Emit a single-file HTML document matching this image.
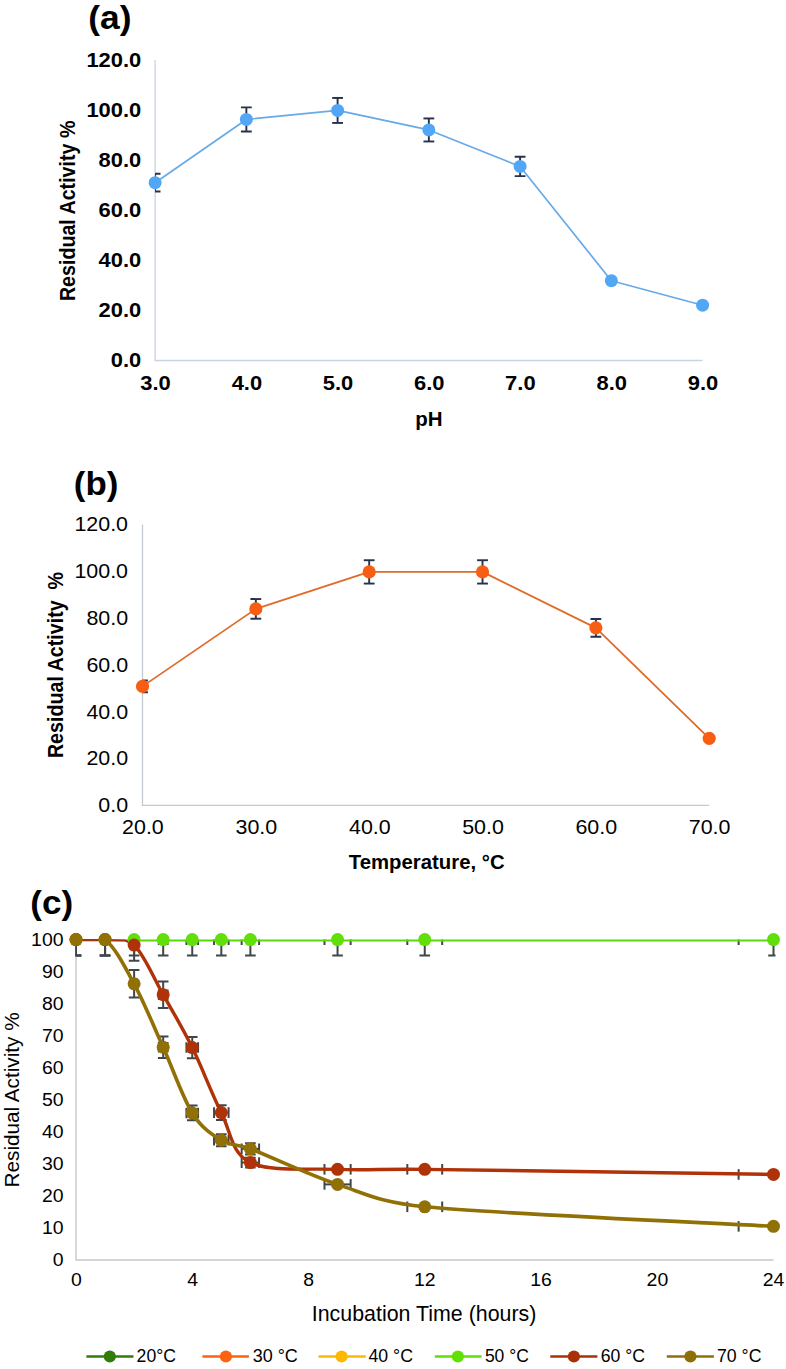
<!DOCTYPE html>
<html><head><meta charset="utf-8"><title>Figure</title>
<style>html,body{margin:0;padding:0;background:#fff;}svg{display:block;font-family:"Liberation Sans", sans-serif;}</style>
</head><body>
<svg width="786" height="1369" viewBox="0 0 786 1369">
<rect width="786" height="1369" fill="#fff"/>
<polyline points="155.1,60 155.1,360.5 702.60,360.5" fill="none" stroke="#cad2e8" stroke-width="1.3"/>
<clipPath id="ca"><rect x="155.1" y="0" width="553.5" height="360.2"/></clipPath>
<g clip-path="url(#ca)">
<line x1="155.10" y1="173.82" x2="155.10" y2="191.57" stroke="#27324a" stroke-width="1.9"/>
<line x1="149.70" y1="173.82" x2="160.50" y2="173.82" stroke="#27324a" stroke-width="1.9"/>
<line x1="149.70" y1="191.57" x2="160.50" y2="191.57" stroke="#27324a" stroke-width="1.9"/>
<line x1="246.35" y1="107.41" x2="246.35" y2="131.49" stroke="#27324a" stroke-width="1.9"/>
<line x1="240.95" y1="107.41" x2="251.75" y2="107.41" stroke="#27324a" stroke-width="1.9"/>
<line x1="240.95" y1="131.49" x2="251.75" y2="131.49" stroke="#27324a" stroke-width="1.9"/>
<line x1="337.60" y1="97.96" x2="337.60" y2="122.94" stroke="#27324a" stroke-width="1.9"/>
<line x1="332.20" y1="97.96" x2="343.00" y2="97.96" stroke="#27324a" stroke-width="1.9"/>
<line x1="332.20" y1="122.94" x2="343.00" y2="122.94" stroke="#27324a" stroke-width="1.9"/>
<line x1="428.85" y1="118.44" x2="428.85" y2="141.46" stroke="#27324a" stroke-width="1.9"/>
<line x1="423.45" y1="118.44" x2="434.25" y2="118.44" stroke="#27324a" stroke-width="1.9"/>
<line x1="423.45" y1="141.46" x2="434.25" y2="141.46" stroke="#27324a" stroke-width="1.9"/>
<line x1="520.10" y1="156.76" x2="520.10" y2="176.14" stroke="#27324a" stroke-width="1.9"/>
<line x1="514.70" y1="156.76" x2="525.50" y2="156.76" stroke="#27324a" stroke-width="1.9"/>
<line x1="514.70" y1="176.14" x2="525.50" y2="176.14" stroke="#27324a" stroke-width="1.9"/>
</g>
<polyline points="155.10,182.70 246.35,119.45 337.60,110.45 428.85,129.95 520.10,166.45 611.35,280.70 702.60,305.20" fill="none" stroke="#66aae6" stroke-width="1.7" stroke-linejoin="round"/>
<circle cx="155.10" cy="182.70" r="6.5" fill="#52a6f6"/>
<circle cx="246.35" cy="119.45" r="6.5" fill="#52a6f6"/>
<circle cx="337.60" cy="110.45" r="6.5" fill="#52a6f6"/>
<circle cx="428.85" cy="129.95" r="6.5" fill="#52a6f6"/>
<circle cx="520.10" cy="166.45" r="6.5" fill="#52a6f6"/>
<circle cx="611.35" cy="280.70" r="6.5" fill="#52a6f6"/>
<circle cx="702.60" cy="305.20" r="6.5" fill="#52a6f6"/>
<polyline points="142.5,524.4 142.5,805.3 709.20,805.3" fill="none" stroke="#c2c9d2" stroke-width="1.3"/>
<clipPath id="cb"><rect x="142.5" y="450" width="572.7" height="355.3"/></clipPath>
<g clip-path="url(#cb)">
<line x1="142.50" y1="680.43" x2="142.50" y2="692.32" stroke="#27324a" stroke-width="1.9"/>
<line x1="137.10" y1="680.43" x2="147.90" y2="680.43" stroke="#27324a" stroke-width="1.9"/>
<line x1="137.10" y1="692.32" x2="147.90" y2="692.32" stroke="#27324a" stroke-width="1.9"/>
<line x1="255.84" y1="599.07" x2="255.84" y2="618.71" stroke="#27324a" stroke-width="1.9"/>
<line x1="250.44" y1="599.07" x2="261.24" y2="599.07" stroke="#27324a" stroke-width="1.9"/>
<line x1="250.44" y1="618.71" x2="261.24" y2="618.71" stroke="#27324a" stroke-width="1.9"/>
<line x1="369.18" y1="560.23" x2="369.18" y2="583.57" stroke="#27324a" stroke-width="1.9"/>
<line x1="363.78" y1="560.23" x2="374.58" y2="560.23" stroke="#27324a" stroke-width="1.9"/>
<line x1="363.78" y1="583.57" x2="374.58" y2="583.57" stroke="#27324a" stroke-width="1.9"/>
<line x1="482.52" y1="560.23" x2="482.52" y2="583.57" stroke="#27324a" stroke-width="1.9"/>
<line x1="477.12" y1="560.23" x2="487.92" y2="560.23" stroke="#27324a" stroke-width="1.9"/>
<line x1="477.12" y1="583.57" x2="487.92" y2="583.57" stroke="#27324a" stroke-width="1.9"/>
<line x1="595.86" y1="618.98" x2="595.86" y2="636.72" stroke="#27324a" stroke-width="1.9"/>
<line x1="590.46" y1="618.98" x2="601.26" y2="618.98" stroke="#27324a" stroke-width="1.9"/>
<line x1="590.46" y1="636.72" x2="601.26" y2="636.72" stroke="#27324a" stroke-width="1.9"/>
</g>
<polyline points="142.50,686.38 255.84,608.89 369.18,571.90 482.52,571.90 595.86,627.85 709.20,738.35" fill="none" stroke="#e06a28" stroke-width="1.8" stroke-linejoin="round"/>
<circle cx="142.50" cy="686.38" r="6.6" fill="#f85d14"/>
<circle cx="255.84" cy="608.89" r="6.6" fill="#f85d14"/>
<circle cx="369.18" cy="571.90" r="6.6" fill="#f85d14"/>
<circle cx="482.52" cy="571.90" r="6.6" fill="#f85d14"/>
<circle cx="595.86" cy="627.85" r="6.6" fill="#f85d14"/>
<circle cx="709.20" cy="738.35" r="6.6" fill="#f85d14"/>
<polyline points="76.0,939.60 76.0,1260.0 773.50,1260.0" fill="none" stroke="#c3c9c9" stroke-width="1.4"/>
<clipPath id="cc"><rect x="75.5" y="939.6" width="700.0" height="320.4"/></clipPath>
<g clip-path="url(#cc)">
<line x1="76.00" y1="923.58" x2="76.00" y2="955.62" stroke="#404649" stroke-width="2.0"/>
<line x1="70.70" y1="923.58" x2="81.30" y2="923.58" stroke="#404649" stroke-width="2.0"/>
<line x1="70.70" y1="955.62" x2="81.30" y2="955.62" stroke="#404649" stroke-width="2.0"/>
<line x1="105.06" y1="923.58" x2="105.06" y2="955.62" stroke="#404649" stroke-width="2.0"/>
<line x1="99.76" y1="923.58" x2="110.36" y2="923.58" stroke="#404649" stroke-width="2.0"/>
<line x1="99.76" y1="955.62" x2="110.36" y2="955.62" stroke="#404649" stroke-width="2.0"/>
<line x1="103.61" y1="934.30" x2="103.61" y2="944.90" stroke="#404649" stroke-width="2.0"/>
<line x1="106.52" y1="934.30" x2="106.52" y2="944.90" stroke="#404649" stroke-width="2.0"/>
<line x1="134.12" y1="923.58" x2="134.12" y2="955.62" stroke="#404649" stroke-width="2.0"/>
<line x1="128.82" y1="923.58" x2="139.43" y2="923.58" stroke="#404649" stroke-width="2.0"/>
<line x1="128.82" y1="955.62" x2="139.43" y2="955.62" stroke="#404649" stroke-width="2.0"/>
<line x1="131.22" y1="934.30" x2="131.22" y2="944.90" stroke="#404649" stroke-width="2.0"/>
<line x1="137.03" y1="934.30" x2="137.03" y2="944.90" stroke="#404649" stroke-width="2.0"/>
<line x1="163.19" y1="923.58" x2="163.19" y2="955.62" stroke="#404649" stroke-width="2.0"/>
<line x1="157.89" y1="923.58" x2="168.49" y2="923.58" stroke="#404649" stroke-width="2.0"/>
<line x1="157.89" y1="955.62" x2="168.49" y2="955.62" stroke="#404649" stroke-width="2.0"/>
<line x1="158.83" y1="934.30" x2="158.83" y2="944.90" stroke="#404649" stroke-width="2.0"/>
<line x1="167.55" y1="934.30" x2="167.55" y2="944.90" stroke="#404649" stroke-width="2.0"/>
<line x1="192.25" y1="923.58" x2="192.25" y2="955.62" stroke="#404649" stroke-width="2.0"/>
<line x1="186.95" y1="923.58" x2="197.55" y2="923.58" stroke="#404649" stroke-width="2.0"/>
<line x1="186.95" y1="955.62" x2="197.55" y2="955.62" stroke="#404649" stroke-width="2.0"/>
<line x1="186.44" y1="934.30" x2="186.44" y2="944.90" stroke="#404649" stroke-width="2.0"/>
<line x1="198.06" y1="934.30" x2="198.06" y2="944.90" stroke="#404649" stroke-width="2.0"/>
<line x1="221.31" y1="923.58" x2="221.31" y2="955.62" stroke="#404649" stroke-width="2.0"/>
<line x1="216.01" y1="923.58" x2="226.61" y2="923.58" stroke="#404649" stroke-width="2.0"/>
<line x1="216.01" y1="955.62" x2="226.61" y2="955.62" stroke="#404649" stroke-width="2.0"/>
<line x1="214.05" y1="934.30" x2="214.05" y2="944.90" stroke="#404649" stroke-width="2.0"/>
<line x1="228.58" y1="934.30" x2="228.58" y2="944.90" stroke="#404649" stroke-width="2.0"/>
<line x1="250.38" y1="923.58" x2="250.38" y2="955.62" stroke="#404649" stroke-width="2.0"/>
<line x1="245.07" y1="923.58" x2="255.68" y2="923.58" stroke="#404649" stroke-width="2.0"/>
<line x1="245.07" y1="955.62" x2="255.68" y2="955.62" stroke="#404649" stroke-width="2.0"/>
<line x1="241.66" y1="934.30" x2="241.66" y2="944.90" stroke="#404649" stroke-width="2.0"/>
<line x1="259.09" y1="934.30" x2="259.09" y2="944.90" stroke="#404649" stroke-width="2.0"/>
<line x1="337.56" y1="923.58" x2="337.56" y2="955.62" stroke="#404649" stroke-width="2.0"/>
<line x1="332.26" y1="923.58" x2="342.86" y2="923.58" stroke="#404649" stroke-width="2.0"/>
<line x1="332.26" y1="955.62" x2="342.86" y2="955.62" stroke="#404649" stroke-width="2.0"/>
<line x1="324.48" y1="934.30" x2="324.48" y2="944.90" stroke="#404649" stroke-width="2.0"/>
<line x1="350.64" y1="934.30" x2="350.64" y2="944.90" stroke="#404649" stroke-width="2.0"/>
<line x1="424.75" y1="923.58" x2="424.75" y2="955.62" stroke="#404649" stroke-width="2.0"/>
<line x1="419.45" y1="923.58" x2="430.05" y2="923.58" stroke="#404649" stroke-width="2.0"/>
<line x1="419.45" y1="955.62" x2="430.05" y2="955.62" stroke="#404649" stroke-width="2.0"/>
<line x1="407.31" y1="934.30" x2="407.31" y2="944.90" stroke="#404649" stroke-width="2.0"/>
<line x1="442.19" y1="934.30" x2="442.19" y2="944.90" stroke="#404649" stroke-width="2.0"/>
<line x1="773.50" y1="923.58" x2="773.50" y2="955.62" stroke="#404649" stroke-width="2.0"/>
<line x1="768.20" y1="923.58" x2="778.80" y2="923.58" stroke="#404649" stroke-width="2.0"/>
<line x1="768.20" y1="955.62" x2="778.80" y2="955.62" stroke="#404649" stroke-width="2.0"/>
<line x1="738.62" y1="934.30" x2="738.62" y2="944.90" stroke="#404649" stroke-width="2.0"/>
<line x1="808.38" y1="934.30" x2="808.38" y2="944.90" stroke="#404649" stroke-width="2.0"/>
<line x1="76.00" y1="923.58" x2="76.00" y2="955.62" stroke="#404649" stroke-width="2.0"/>
<line x1="70.70" y1="923.58" x2="81.30" y2="923.58" stroke="#404649" stroke-width="2.0"/>
<line x1="70.70" y1="955.62" x2="81.30" y2="955.62" stroke="#404649" stroke-width="2.0"/>
<line x1="105.06" y1="923.58" x2="105.06" y2="955.62" stroke="#404649" stroke-width="2.0"/>
<line x1="99.76" y1="923.58" x2="110.36" y2="923.58" stroke="#404649" stroke-width="2.0"/>
<line x1="99.76" y1="955.62" x2="110.36" y2="955.62" stroke="#404649" stroke-width="2.0"/>
<line x1="103.61" y1="939.60" x2="106.52" y2="939.60" stroke="#404649" stroke-width="2.0"/>
<line x1="103.61" y1="934.30" x2="103.61" y2="944.90" stroke="#404649" stroke-width="2.0"/>
<line x1="106.52" y1="934.30" x2="106.52" y2="944.90" stroke="#404649" stroke-width="2.0"/>
<line x1="134.12" y1="929.30" x2="134.12" y2="960.79" stroke="#404649" stroke-width="2.0"/>
<line x1="128.82" y1="929.30" x2="139.43" y2="929.30" stroke="#404649" stroke-width="2.0"/>
<line x1="128.82" y1="960.79" x2="139.43" y2="960.79" stroke="#404649" stroke-width="2.0"/>
<line x1="131.22" y1="945.05" x2="137.03" y2="945.05" stroke="#404649" stroke-width="2.0"/>
<line x1="131.22" y1="939.75" x2="131.22" y2="950.35" stroke="#404649" stroke-width="2.0"/>
<line x1="137.03" y1="939.75" x2="137.03" y2="950.35" stroke="#404649" stroke-width="2.0"/>
<line x1="163.19" y1="981.44" x2="163.19" y2="1007.97" stroke="#404649" stroke-width="2.0"/>
<line x1="157.89" y1="981.44" x2="168.49" y2="981.44" stroke="#404649" stroke-width="2.0"/>
<line x1="157.89" y1="1007.97" x2="168.49" y2="1007.97" stroke="#404649" stroke-width="2.0"/>
<line x1="158.83" y1="994.71" x2="167.55" y2="994.71" stroke="#404649" stroke-width="2.0"/>
<line x1="158.83" y1="989.41" x2="158.83" y2="1000.01" stroke="#404649" stroke-width="2.0"/>
<line x1="167.55" y1="989.41" x2="167.55" y2="1000.01" stroke="#404649" stroke-width="2.0"/>
<line x1="192.25" y1="1036.95" x2="192.25" y2="1058.20" stroke="#404649" stroke-width="2.0"/>
<line x1="186.95" y1="1036.95" x2="197.55" y2="1036.95" stroke="#404649" stroke-width="2.0"/>
<line x1="186.95" y1="1058.20" x2="197.55" y2="1058.20" stroke="#404649" stroke-width="2.0"/>
<line x1="186.44" y1="1047.57" x2="198.06" y2="1047.57" stroke="#404649" stroke-width="2.0"/>
<line x1="186.44" y1="1042.27" x2="186.44" y2="1052.87" stroke="#404649" stroke-width="2.0"/>
<line x1="198.06" y1="1042.27" x2="198.06" y2="1052.87" stroke="#404649" stroke-width="2.0"/>
<line x1="221.31" y1="1105.25" x2="221.31" y2="1119.99" stroke="#404649" stroke-width="2.0"/>
<line x1="216.01" y1="1105.25" x2="226.61" y2="1105.25" stroke="#404649" stroke-width="2.0"/>
<line x1="216.01" y1="1119.99" x2="226.61" y2="1119.99" stroke="#404649" stroke-width="2.0"/>
<line x1="214.05" y1="1112.62" x2="228.58" y2="1112.62" stroke="#404649" stroke-width="2.0"/>
<line x1="214.05" y1="1107.32" x2="214.05" y2="1117.92" stroke="#404649" stroke-width="2.0"/>
<line x1="228.58" y1="1107.32" x2="228.58" y2="1117.92" stroke="#404649" stroke-width="2.0"/>
<line x1="250.38" y1="1157.73" x2="250.38" y2="1167.47" stroke="#404649" stroke-width="2.0"/>
<line x1="245.07" y1="1157.73" x2="255.68" y2="1157.73" stroke="#404649" stroke-width="2.0"/>
<line x1="245.07" y1="1167.47" x2="255.68" y2="1167.47" stroke="#404649" stroke-width="2.0"/>
<line x1="241.66" y1="1162.60" x2="259.09" y2="1162.60" stroke="#404649" stroke-width="2.0"/>
<line x1="241.66" y1="1157.30" x2="241.66" y2="1167.90" stroke="#404649" stroke-width="2.0"/>
<line x1="259.09" y1="1157.30" x2="259.09" y2="1167.90" stroke="#404649" stroke-width="2.0"/>
<line x1="324.48" y1="1169.33" x2="350.64" y2="1169.33" stroke="#404649" stroke-width="2.0"/>
<line x1="324.48" y1="1164.03" x2="324.48" y2="1174.63" stroke="#404649" stroke-width="2.0"/>
<line x1="350.64" y1="1164.03" x2="350.64" y2="1174.63" stroke="#404649" stroke-width="2.0"/>
<line x1="407.31" y1="1164.03" x2="407.31" y2="1174.63" stroke="#404649" stroke-width="2.0"/>
<line x1="442.19" y1="1164.03" x2="442.19" y2="1174.63" stroke="#404649" stroke-width="2.0"/>
<line x1="738.62" y1="1169.15" x2="738.62" y2="1179.75" stroke="#404649" stroke-width="2.0"/>
<line x1="808.38" y1="1169.15" x2="808.38" y2="1179.75" stroke="#404649" stroke-width="2.0"/>
<line x1="76.00" y1="923.58" x2="76.00" y2="955.62" stroke="#404649" stroke-width="2.0"/>
<line x1="70.70" y1="923.58" x2="81.30" y2="923.58" stroke="#404649" stroke-width="2.0"/>
<line x1="70.70" y1="955.62" x2="81.30" y2="955.62" stroke="#404649" stroke-width="2.0"/>
<line x1="105.06" y1="923.58" x2="105.06" y2="955.62" stroke="#404649" stroke-width="2.0"/>
<line x1="99.76" y1="923.58" x2="110.36" y2="923.58" stroke="#404649" stroke-width="2.0"/>
<line x1="99.76" y1="955.62" x2="110.36" y2="955.62" stroke="#404649" stroke-width="2.0"/>
<line x1="103.61" y1="939.60" x2="106.52" y2="939.60" stroke="#404649" stroke-width="2.0"/>
<line x1="103.61" y1="934.30" x2="103.61" y2="944.90" stroke="#404649" stroke-width="2.0"/>
<line x1="106.52" y1="934.30" x2="106.52" y2="944.90" stroke="#404649" stroke-width="2.0"/>
<line x1="134.12" y1="970.01" x2="134.12" y2="997.62" stroke="#404649" stroke-width="2.0"/>
<line x1="128.82" y1="970.01" x2="139.43" y2="970.01" stroke="#404649" stroke-width="2.0"/>
<line x1="128.82" y1="997.62" x2="139.43" y2="997.62" stroke="#404649" stroke-width="2.0"/>
<line x1="131.22" y1="983.82" x2="137.03" y2="983.82" stroke="#404649" stroke-width="2.0"/>
<line x1="131.22" y1="978.52" x2="131.22" y2="989.12" stroke="#404649" stroke-width="2.0"/>
<line x1="137.03" y1="978.52" x2="137.03" y2="989.12" stroke="#404649" stroke-width="2.0"/>
<line x1="163.19" y1="1036.62" x2="163.19" y2="1057.89" stroke="#404649" stroke-width="2.0"/>
<line x1="157.89" y1="1036.62" x2="168.49" y2="1036.62" stroke="#404649" stroke-width="2.0"/>
<line x1="157.89" y1="1057.89" x2="168.49" y2="1057.89" stroke="#404649" stroke-width="2.0"/>
<line x1="158.83" y1="1047.25" x2="167.55" y2="1047.25" stroke="#404649" stroke-width="2.0"/>
<line x1="158.83" y1="1041.95" x2="158.83" y2="1052.55" stroke="#404649" stroke-width="2.0"/>
<line x1="167.55" y1="1041.95" x2="167.55" y2="1052.55" stroke="#404649" stroke-width="2.0"/>
<line x1="192.25" y1="1105.58" x2="192.25" y2="1120.29" stroke="#404649" stroke-width="2.0"/>
<line x1="186.95" y1="1105.58" x2="197.55" y2="1105.58" stroke="#404649" stroke-width="2.0"/>
<line x1="186.95" y1="1120.29" x2="197.55" y2="1120.29" stroke="#404649" stroke-width="2.0"/>
<line x1="186.44" y1="1112.94" x2="198.06" y2="1112.94" stroke="#404649" stroke-width="2.0"/>
<line x1="186.44" y1="1107.64" x2="186.44" y2="1118.24" stroke="#404649" stroke-width="2.0"/>
<line x1="198.06" y1="1107.64" x2="198.06" y2="1118.24" stroke="#404649" stroke-width="2.0"/>
<line x1="221.31" y1="1134.18" x2="221.31" y2="1146.16" stroke="#404649" stroke-width="2.0"/>
<line x1="216.01" y1="1134.18" x2="226.61" y2="1134.18" stroke="#404649" stroke-width="2.0"/>
<line x1="216.01" y1="1146.16" x2="226.61" y2="1146.16" stroke="#404649" stroke-width="2.0"/>
<line x1="214.05" y1="1140.17" x2="228.58" y2="1140.17" stroke="#404649" stroke-width="2.0"/>
<line x1="214.05" y1="1134.87" x2="214.05" y2="1145.47" stroke="#404649" stroke-width="2.0"/>
<line x1="228.58" y1="1134.87" x2="228.58" y2="1145.47" stroke="#404649" stroke-width="2.0"/>
<line x1="250.38" y1="1143.26" x2="250.38" y2="1154.38" stroke="#404649" stroke-width="2.0"/>
<line x1="245.07" y1="1143.26" x2="255.68" y2="1143.26" stroke="#404649" stroke-width="2.0"/>
<line x1="245.07" y1="1154.38" x2="255.68" y2="1154.38" stroke="#404649" stroke-width="2.0"/>
<line x1="241.66" y1="1148.82" x2="259.09" y2="1148.82" stroke="#404649" stroke-width="2.0"/>
<line x1="241.66" y1="1143.52" x2="241.66" y2="1154.12" stroke="#404649" stroke-width="2.0"/>
<line x1="259.09" y1="1143.52" x2="259.09" y2="1154.12" stroke="#404649" stroke-width="2.0"/>
<line x1="324.48" y1="1184.39" x2="350.64" y2="1184.39" stroke="#404649" stroke-width="2.0"/>
<line x1="324.48" y1="1179.09" x2="324.48" y2="1189.69" stroke="#404649" stroke-width="2.0"/>
<line x1="350.64" y1="1179.09" x2="350.64" y2="1189.69" stroke="#404649" stroke-width="2.0"/>
<line x1="407.31" y1="1201.51" x2="407.31" y2="1212.11" stroke="#404649" stroke-width="2.0"/>
<line x1="442.19" y1="1201.51" x2="442.19" y2="1212.11" stroke="#404649" stroke-width="2.0"/>
<line x1="738.62" y1="1221.06" x2="738.62" y2="1231.66" stroke="#404649" stroke-width="2.0"/>
<line x1="808.38" y1="1221.06" x2="808.38" y2="1231.66" stroke="#404649" stroke-width="2.0"/>
</g>
<path d="M76.00,940.40 C80.84,940.40 95.38,940.40 105.06,940.40 C114.75,940.40 124.44,940.40 134.12,940.40 C143.81,940.40 153.50,940.40 163.19,940.40 C172.88,940.40 182.56,940.40 192.25,940.40 C201.94,940.40 211.62,940.40 221.31,940.40 C231.00,940.40 235.84,940.40 250.38,940.40 C269.75,940.40 308.50,940.40 337.56,940.40 C366.62,940.40 381.16,940.40 424.75,940.40 C497.41,940.40 715.38,940.40 773.50,940.40" fill="none" stroke="#5cd80a" stroke-width="2.0" stroke-linecap="round" stroke-linejoin="round"/>
<path d="M134.12,945.05 C143.81,954.23 153.50,977.62 163.19,994.71 C172.88,1011.80 182.56,1027.92 192.25,1047.57 C201.94,1067.23 211.62,1093.45 221.31,1112.62 C231.00,1131.79 231.00,1153.15 250.38,1162.60 C269.75,1172.05 308.50,1168.21 337.56,1169.33 C366.62,1170.45 381.16,1168.81 424.75,1169.33 C497.41,1170.18 715.38,1173.60 773.50,1174.45" fill="none" stroke="#b03208" stroke-width="3.4" stroke-linecap="round" stroke-linejoin="round"/>
<path d="M105.06,939.60 C114.75,946.97 124.44,965.87 134.12,983.82 C143.81,1001.76 153.50,1025.73 163.19,1047.25 C172.88,1068.77 182.56,1097.45 192.25,1112.94 C201.94,1128.42 211.62,1134.19 221.31,1140.17 C231.00,1146.15 236.20,1143.43 250.38,1148.82 C269.75,1156.19 308.50,1174.72 337.56,1184.39 C366.62,1194.05 379.94,1202.50 424.75,1206.81 C497.41,1213.81 715.38,1223.10 773.50,1226.36" fill="none" stroke="#917006" stroke-width="3.6" stroke-linecap="round" stroke-linejoin="round"/>
<polyline points="76.00,940.00 105.06,940.00 125.41,940.50 134.12,945.05" fill="none" stroke="#a0380f" stroke-width="2.2"/>
<circle cx="76.00" cy="939.60" r="6.5" fill="#60df08"/>
<circle cx="105.06" cy="939.60" r="6.5" fill="#60df08"/>
<circle cx="134.12" cy="939.60" r="6.5" fill="#60df08"/>
<circle cx="163.19" cy="939.60" r="6.5" fill="#60df08"/>
<circle cx="192.25" cy="939.60" r="6.5" fill="#60df08"/>
<circle cx="221.31" cy="939.60" r="6.5" fill="#60df08"/>
<circle cx="250.38" cy="939.60" r="6.5" fill="#60df08"/>
<circle cx="337.56" cy="939.60" r="6.5" fill="#60df08"/>
<circle cx="424.75" cy="939.60" r="6.5" fill="#60df08"/>
<circle cx="773.50" cy="939.60" r="6.5" fill="#60df08"/>
<circle cx="76.00" cy="939.60" r="6.5" fill="#b03208"/>
<circle cx="105.06" cy="939.60" r="6.5" fill="#b03208"/>
<circle cx="134.12" cy="945.05" r="6.5" fill="#b03208"/>
<circle cx="163.19" cy="994.71" r="6.5" fill="#b03208"/>
<circle cx="192.25" cy="1047.57" r="6.5" fill="#b03208"/>
<circle cx="221.31" cy="1112.62" r="6.5" fill="#b03208"/>
<circle cx="250.38" cy="1162.60" r="6.5" fill="#b03208"/>
<circle cx="337.56" cy="1169.33" r="6.5" fill="#b03208"/>
<circle cx="424.75" cy="1169.33" r="6.5" fill="#b03208"/>
<circle cx="773.50" cy="1174.45" r="6.5" fill="#b03208"/>
<circle cx="76.00" cy="939.60" r="6.5" fill="#917006"/>
<circle cx="105.06" cy="939.60" r="6.5" fill="#917006"/>
<circle cx="134.12" cy="983.82" r="6.5" fill="#917006"/>
<circle cx="163.19" cy="1047.25" r="6.5" fill="#917006"/>
<circle cx="192.25" cy="1112.94" r="6.5" fill="#917006"/>
<circle cx="221.31" cy="1140.17" r="6.5" fill="#917006"/>
<circle cx="250.38" cy="1148.82" r="6.5" fill="#917006"/>
<circle cx="337.56" cy="1184.39" r="6.5" fill="#917006"/>
<circle cx="424.75" cy="1206.81" r="6.5" fill="#917006"/>
<circle cx="773.50" cy="1226.36" r="6.5" fill="#917006"/>
<line x1="86.40" y1="1356.50" x2="133.50" y2="1356.50" stroke="#317d0c" stroke-width="2.6"/>
<circle cx="109.80" cy="1356.50" r="6.1" fill="#317d0c"/>
<line x1="202.40" y1="1356.50" x2="248.90" y2="1356.50" stroke="#fa6410" stroke-width="2.6"/>
<circle cx="225.90" cy="1356.50" r="6.1" fill="#fa6410"/>
<line x1="318.50" y1="1356.50" x2="365.80" y2="1356.50" stroke="#fdb805" stroke-width="2.6"/>
<circle cx="341.60" cy="1356.50" r="6.1" fill="#fdb805"/>
<line x1="434.80" y1="1356.50" x2="481.60" y2="1356.50" stroke="#5fe006" stroke-width="2.6"/>
<circle cx="457.90" cy="1356.50" r="6.1" fill="#5fe006"/>
<line x1="550.30" y1="1356.50" x2="597.40" y2="1356.50" stroke="#a83208" stroke-width="2.6"/>
<circle cx="573.90" cy="1356.50" r="6.1" fill="#a83208"/>
<line x1="666.80" y1="1356.50" x2="713.90" y2="1356.50" stroke="#8f6e06" stroke-width="2.6"/>
<circle cx="690.40" cy="1356.50" r="6.1" fill="#8f6e06"/>
<text transform="translate(88.23,29.06) scale(1.0396,1)" font-size="34.01" font-weight="bold" fill="#000" xml:space="preserve">(a)</text>
<text transform="translate(110.78,367.48) scale(1.0400,1)" font-size="21.10" font-weight="bold" fill="#000" xml:space="preserve">0.0</text>
<text transform="translate(98.60,317.48) scale(1.0400,1)" font-size="21.10" font-weight="bold" fill="#000" xml:space="preserve">20.0</text>
<text transform="translate(98.60,267.48) scale(1.0400,1)" font-size="21.10" font-weight="bold" fill="#000" xml:space="preserve">40.0</text>
<text transform="translate(98.60,217.48) scale(1.0400,1)" font-size="21.10" font-weight="bold" fill="#000" xml:space="preserve">60.0</text>
<text transform="translate(98.60,167.48) scale(1.0400,1)" font-size="21.10" font-weight="bold" fill="#000" xml:space="preserve">80.0</text>
<text transform="translate(86.42,117.48) scale(1.0400,1)" font-size="21.10" font-weight="bold" fill="#000" xml:space="preserve">100.0</text>
<text transform="translate(86.42,67.48) scale(1.0400,1)" font-size="21.10" font-weight="bold" fill="#000" xml:space="preserve">120.0</text>
<text transform="translate(140.31,390.08) scale(1.0400,1)" font-size="21.10" font-weight="bold" fill="#000" xml:space="preserve">3.0</text>
<text transform="translate(231.67,390.08) scale(1.0400,1)" font-size="21.10" font-weight="bold" fill="#000" xml:space="preserve">4.0</text>
<text transform="translate(322.76,390.08) scale(1.0400,1)" font-size="21.10" font-weight="bold" fill="#000" xml:space="preserve">5.0</text>
<text transform="translate(413.95,390.08) scale(1.0400,1)" font-size="21.10" font-weight="bold" fill="#000" xml:space="preserve">6.0</text>
<text transform="translate(505.09,390.08) scale(1.0400,1)" font-size="21.10" font-weight="bold" fill="#000" xml:space="preserve">7.0</text>
<text transform="translate(596.51,390.08) scale(1.0400,1)" font-size="21.10" font-weight="bold" fill="#000" xml:space="preserve">8.0</text>
<text transform="translate(687.70,390.08) scale(1.0400,1)" font-size="21.10" font-weight="bold" fill="#000" xml:space="preserve">9.0</text>
<text transform="translate(415.27,425.50) scale(0.9755,1)" font-size="21.01" font-weight="bold" fill="#000" xml:space="preserve">pH</text>
<text transform="translate(74.80,301.08) rotate(-90) scale(0.9033,1)" font-size="21.75" font-weight="bold" fill="#000" xml:space="preserve">Residual Activity %</text>
<text transform="translate(73.86,495.10) scale(1.0325,1)" font-size="33.80" font-weight="bold" fill="#000" xml:space="preserve">(b)</text>
<text transform="translate(98.28,812.25) scale(1.0200,1)" font-size="21.00" fill="#000" xml:space="preserve">0.0</text>
<text transform="translate(86.39,765.42) scale(1.0200,1)" font-size="21.00" fill="#000" xml:space="preserve">20.0</text>
<text transform="translate(86.39,718.61) scale(1.0200,1)" font-size="21.00" fill="#000" xml:space="preserve">40.0</text>
<text transform="translate(86.39,671.78) scale(1.0200,1)" font-size="21.00" fill="#000" xml:space="preserve">60.0</text>
<text transform="translate(86.39,624.97) scale(1.0200,1)" font-size="21.00" fill="#000" xml:space="preserve">80.0</text>
<text transform="translate(74.40,578.14) scale(1.0200,1)" font-size="21.00" fill="#000" xml:space="preserve">100.0</text>
<text transform="translate(74.40,531.32) scale(1.0200,1)" font-size="21.00" fill="#000" xml:space="preserve">120.0</text>
<text transform="translate(122.06,834.45) scale(1.0200,1)" font-size="21.00" fill="#000" xml:space="preserve">20.0</text>
<text transform="translate(235.51,834.45) scale(1.0200,1)" font-size="21.00" fill="#000" xml:space="preserve">30.0</text>
<text transform="translate(349.01,834.45) scale(1.0200,1)" font-size="21.00" fill="#000" xml:space="preserve">40.0</text>
<text transform="translate(462.19,834.45) scale(1.0200,1)" font-size="21.00" fill="#000" xml:space="preserve">50.0</text>
<text transform="translate(575.42,834.45) scale(1.0200,1)" font-size="21.00" fill="#000" xml:space="preserve">60.0</text>
<text transform="translate(688.76,834.45) scale(1.0200,1)" font-size="21.00" fill="#000" xml:space="preserve">70.0</text>
<text transform="translate(348.80,868.90) scale(1.0245,1)" font-size="19.86" font-weight="bold" fill="#000" xml:space="preserve">Temperature, °C</text>
<text transform="translate(62.50,758.08) rotate(-90) scale(0.9166,1)" font-size="21.46" font-weight="bold" fill="#000" xml:space="preserve">Residual Activity&#160; %</text>
<text transform="translate(30.25,914.18) scale(1.0350,1)" font-size="33.90" font-weight="bold" fill="#000" xml:space="preserve">(c)</text>
<text transform="translate(52.78,1266.15) scale(1.0400,1)" font-size="18.70" fill="#000" xml:space="preserve">0</text>
<text transform="translate(41.89,1234.11) scale(1.0400,1)" font-size="18.70" fill="#000" xml:space="preserve">10</text>
<text transform="translate(41.89,1202.07) scale(1.0400,1)" font-size="18.70" fill="#000" xml:space="preserve">20</text>
<text transform="translate(41.89,1170.03) scale(1.0400,1)" font-size="18.70" fill="#000" xml:space="preserve">30</text>
<text transform="translate(41.89,1137.99) scale(1.0400,1)" font-size="18.70" fill="#000" xml:space="preserve">40</text>
<text transform="translate(41.89,1105.95) scale(1.0400,1)" font-size="18.70" fill="#000" xml:space="preserve">50</text>
<text transform="translate(41.89,1073.91) scale(1.0400,1)" font-size="18.70" fill="#000" xml:space="preserve">60</text>
<text transform="translate(41.89,1041.87) scale(1.0400,1)" font-size="18.70" fill="#000" xml:space="preserve">70</text>
<text transform="translate(41.89,1009.83) scale(1.0400,1)" font-size="18.70" fill="#000" xml:space="preserve">80</text>
<text transform="translate(41.89,977.79) scale(1.0400,1)" font-size="18.70" fill="#000" xml:space="preserve">90</text>
<text transform="translate(31.10,945.75) scale(1.0400,1)" font-size="18.70" fill="#000" xml:space="preserve">100</text>
<text transform="translate(70.90,1286.25) scale(1.0400,1)" font-size="18.70" fill="#000" xml:space="preserve">0</text>
<text transform="translate(187.20,1286.25) scale(1.0400,1)" font-size="18.70" fill="#000" xml:space="preserve">4</text>
<text transform="translate(303.35,1286.25) scale(1.0400,1)" font-size="18.70" fill="#000" xml:space="preserve">8</text>
<text transform="translate(414.01,1286.35) scale(1.0400,1)" font-size="18.70" fill="#000" xml:space="preserve">12</text>
<text transform="translate(530.17,1286.25) scale(1.0400,1)" font-size="18.70" fill="#000" xml:space="preserve">16</text>
<text transform="translate(646.61,1286.25) scale(1.0400,1)" font-size="18.70" fill="#000" xml:space="preserve">20</text>
<text transform="translate(762.76,1286.35) scale(1.0400,1)" font-size="18.70" fill="#000" xml:space="preserve">24</text>
<text transform="translate(311.78,1320.60) scale(1.0105,1)" font-size="21.16" fill="#000" xml:space="preserve">Incubation Time (hours)</text>
<text transform="translate(18.90,1187.46) rotate(-90) scale(0.9871,1)" font-size="21.01" fill="#000" xml:space="preserve">Residual Activity %</text>
<text transform="translate(136.62,1362.41) scale(0.9337,1)" font-size="18.87" fill="#000" xml:space="preserve">20°C</text>
<text transform="translate(252.68,1362.41) scale(0.9529,1)" font-size="18.87" fill="#000" xml:space="preserve">30 °C</text>
<text transform="translate(368.46,1362.41) scale(0.9383,1)" font-size="18.87" fill="#000" xml:space="preserve">40 °C</text>
<text transform="translate(484.90,1362.41) scale(0.9267,1)" font-size="18.87" fill="#000" xml:space="preserve">50 °C</text>
<text transform="translate(600.82,1362.41) scale(0.9349,1)" font-size="18.87" fill="#000" xml:space="preserve">60 °C</text>
<text transform="translate(717.01,1362.41) scale(0.9393,1)" font-size="18.87" fill="#000" xml:space="preserve">70 °C</text>
</svg>
</body></html>
